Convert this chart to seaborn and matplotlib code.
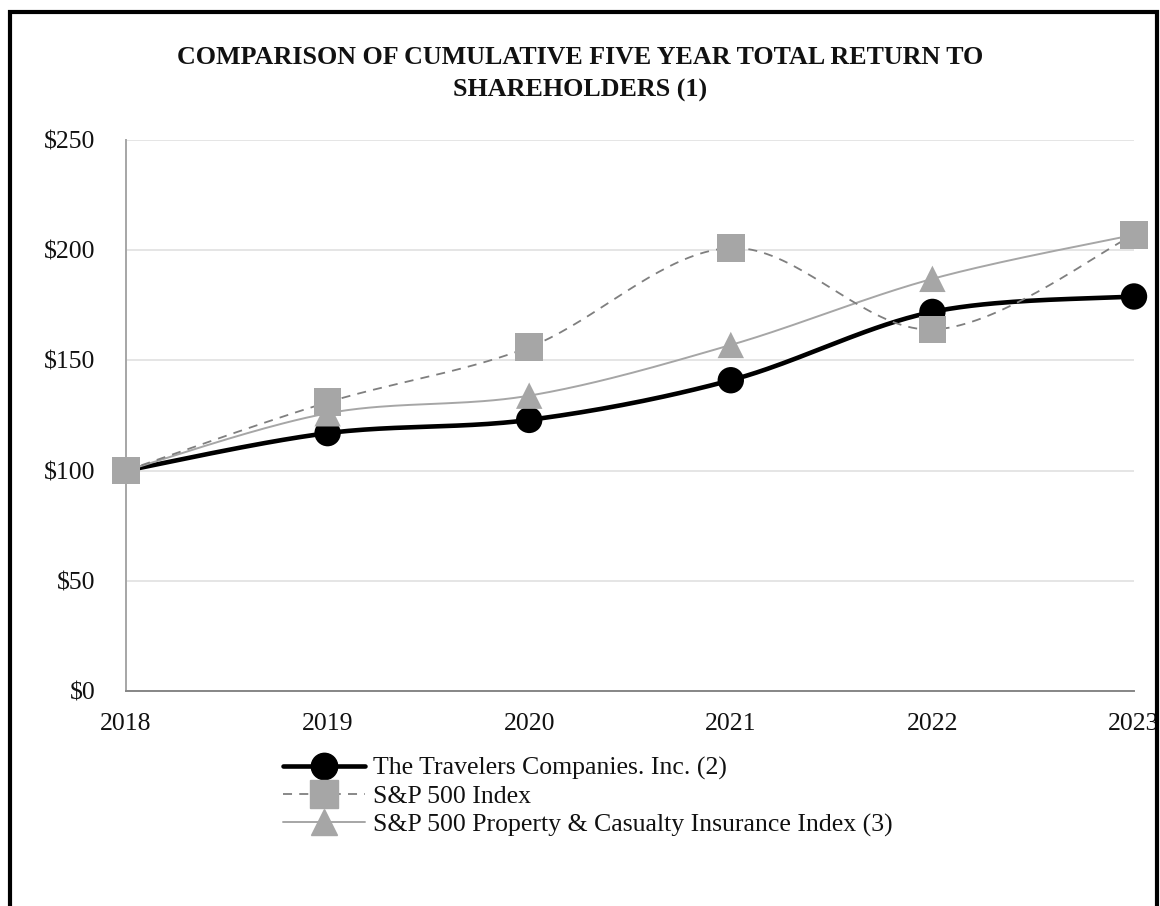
import numpy as np
import pandas as pd
import matplotlib
matplotlib.use("Agg")
import matplotlib.pyplot as plt
import seaborn as sns
from matplotlib.lines import Line2D
from matplotlib.patches import Rectangle

years = [2018, 2019, 2020, 2021, 2022, 2023]
travelers = [100, 117, 123, 141, 172, 179]
sp500 = [100, 131, 156, 201, 164, 207]
pc_index = [100, 126, 134, 157, 187, 207]
series_names = [
    "The Travelers Companies. Inc. (2)",
    "S&P 500 Index",
    "S&P 500 Property & Casualty Insurance Index (3)",
]
yticks = [0, 50, 100, 150, 200, 250]

sns.set_style("white")
plt.rcParams["font.family"] = ["Liberation Serif", "DejaVu Serif"]


def smooth(x, y, n=40):
    # Excel-style smoothed line: cubic Bezier segments, Catmull-Rom control points
    p = np.column_stack([x, y]).astype(float)
    p = np.vstack([p[0], p, p[-1]])
    out = []
    t = np.linspace(0, 1, n)[:, None]
    for i in range(1, len(p) - 2):
        p0, p1, p2, p3 = p[i - 1], p[i], p[i + 1], p[i + 2]
        b1 = p1 + (p2 - p0) / 6
        b2 = p2 - (p3 - p1) / 6
        seg = ((1 - t) ** 3) * p1 + 3 * ((1 - t) ** 2) * t * b1 + 3 * (1 - t) * t ** 2 * b2 + t ** 3 * p2
        out.append(seg)
    out = np.vstack(out)
    return out[:, 0], out[:, 1]


fig = plt.figure(figsize=(11.6, 9.06), dpi=100)
ax = fig.add_axes([126 / 1160, 1 - 691 / 906, (1134 - 126) / 1160, (691 - 140) / 906])

grey = "#a6a6a6"
styles = [
    dict(color="black", lw=3.3, ls="-", marker="o", mcolor="black", ms=19),
    dict(color="#7f7f7f", lw=1.3, ls=(0, (5, 4)), marker="s", mcolor=grey, ms=20),
    dict(color=grey, lw=1.4, ls="-", marker="^", mcolor=grey, ms=19),
]
data = [travelers, sp500, pc_index]

for vals, st, z in zip(data, styles, [3, 4, 3.5]):
    sx, sy = smooth(years, vals)
    ax.plot(sx, sy, color=st["color"], lw=st["lw"], ls=st["ls"], zorder=z, clip_on=False)

for vals, st, z in zip(data, styles, [5, 7, 6]):
    df = pd.DataFrame({"year": years, "value": vals})
    sns.scatterplot(data=df, x="year", y="value", marker=st["marker"], color=st["mcolor"],
                    s=st["ms"] ** 2, edgecolor="none", linewidth=0, ax=ax, zorder=z,
                    clip_on=False, legend=False)

ax.set_xlim(2018, 2023)
ax.set_ylim(0, 250)
ax.set_xticks(years)
ax.set_xticklabels([str(y) for y in years])
ax.set_yticks(yticks)
ax.set_yticklabels([f"${v}" for v in yticks])
ax.set_xlabel("")
ax.set_ylabel("")
ax.grid(axis="y", color="#e0e0e0", lw=1.2)
ax.set_axisbelow(True)
for s in ["top", "right"]:
    ax.spines[s].set_visible(False)
ax.spines["left"].set_color("#a6a6a6")
ax.spines["bottom"].set_color("#868686")
for s in ["left", "bottom"]:
    ax.spines[s].set_linewidth(1.4)
ax.tick_params(axis="both", which="major", length=7.5, width=1.4, color="#a0a0a0",
               labelsize=18.5, labelcolor="#111111", direction="out")
ax.tick_params(axis="x", pad=8)
ax.tick_params(axis="y", pad=14.5)

fig.text(0.5, 1 - 58 / 906, "COMPARISON OF CUMULATIVE FIVE YEAR TOTAL RETURN TO",
         ha="center", va="center", fontsize=18.75, fontweight="bold", color="#111111")
fig.text(0.5, 1 - 90 / 906, "SHAREHOLDERS (1)",
         ha="center", va="center", fontsize=18.75, fontweight="bold", color="#111111")

handles = [
    Line2D([], [], color=st["color"], lw=st["lw"], ls=st["ls"], marker=st["marker"],
           markerfacecolor=st["mcolor"], markeredgecolor=st["mcolor"], markersize=st["ms"])
    for st in styles
]
leg = fig.legend(handles, series_names, loc="upper left", bbox_to_anchor=(283 / 1160, 1 - 757 / 906),
                 frameon=False, fontsize=18.5, handlelength=3.2, handletextpad=0.3,
                 labelspacing=0.19, borderaxespad=0, borderpad=0)
for t in leg.get_texts():
    t.set_color("#111111")

fig.patches.append(Rectangle((10 / 1160, -0.05), 1147 / 1160, 1.05 - 12 / 906, transform=fig.transFigure,
                             fill=False, edgecolor="black", lw=3, zorder=10))

fig.savefig("out.png", dpi=100)
